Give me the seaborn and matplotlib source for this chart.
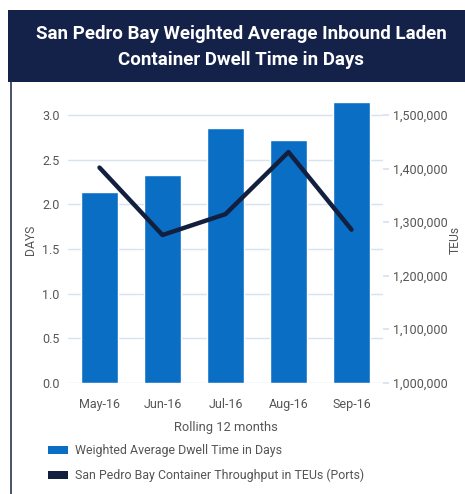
import matplotlib
matplotlib.use('Agg')
import matplotlib.pyplot as plt
from matplotlib.patches import Patch, Rectangle
from matplotlib.lines import Line2D
from matplotlib.ticker import FuncFormatter
import seaborn as sns

MONTHS = ['May-16', 'Jun-16', 'Jul-16', 'Aug-16', 'Sep-16']
DWELL_DAYS = [2.14, 2.33, 2.86, 2.72, 3.15]
TEUS = [1402000, 1276000, 1315000, 1431000, 1286000]

BAR_COLOR = '#0a6fc4'
LINE_COLOR = '#121f3f'
NAVY = '#14224a'
GRID = '#d5e3f2'
TEXT = '#555555'

sns.set_theme(style='white')
plt.rcParams['font.family'] = ['Roboto', 'DejaVu Sans']

fig = plt.figure(figsize=(4.65, 4.94), dpi=100)

# header box and frame
fig.patches.append(Rectangle((8 / 465, 1 - 82 / 494), 1, 72 / 494, transform=fig.transFigure,
                             facecolor=NAVY, edgecolor='none', zorder=0))
fig.lines.append(Line2D([10.5 / 465, 10.5 / 465], [0, 1 - 82 / 494], transform=fig.transFigure,
                        color='#2b3552', lw=1.2))
fig.text(0.519, 1 - 47 / 494, 'San Pedro Bay Weighted Average Inbound Laden\nContainer Dwell Time in Days',
         ha='center', va='center', color='white', fontsize=13.5, fontweight='bold', linespacing=1.55)

ax = fig.add_axes([68 / 465, 1 - 382.7 / 494, 315 / 465, 285.4 / 494])
sns.barplot(x=MONTHS, y=DWELL_DAYS, color=BAR_COLOR, width=0.6, saturation=1, ax=ax, zorder=2)
ax.set_ylim(0, 3.2)
ax.set_xlim(-0.5, 4.5)
ax.set_yticks([0, 0.5, 1.0, 1.5, 2.0, 2.5, 3.0])
ax.yaxis.set_major_formatter(FuncFormatter(lambda v, p: f'{v:.1f}'))
ax.grid(axis='y', color=GRID, lw=1, zorder=0)
ax.set_axisbelow(True)
for s in ax.spines.values():
    s.set_visible(False)
ax.tick_params(axis='y', length=0, labelsize=9, labelcolor=TEXT, pad=6)
ax.tick_params(axis='x', length=0, labelsize=9, labelcolor=TEXT, pad=11)
ax.set_ylabel('DAYS', fontsize=8.7, color=TEXT, labelpad=4)
ax.set_xlabel('Rolling 12 months', fontsize=9.3, color=TEXT, labelpad=7)

ax2 = ax.twinx()
sns.lineplot(x=MONTHS, y=TEUS, color=LINE_COLOR, lw=3.2, ax=ax2, zorder=3)
ax2.set_ylim(1000000, 1000000 + 3.2 / 3 * 500000)
ax2.set_yticks([1000000, 1100000, 1200000, 1300000, 1400000, 1500000])
ax2.yaxis.set_major_formatter(FuncFormatter(lambda v, p: f'{int(v):,}'))
for s in ax2.spines.values():
    s.set_visible(False)
ax2.tick_params(axis='y', length=4, color=GRID, labelsize=9, labelcolor=TEXT, pad=3)
ax2.set_ylabel('TEUs', fontsize=8.7, color=TEXT, labelpad=1)
ax2.grid(False)

handles = [Patch(facecolor=BAR_COLOR, edgecolor='none', label='Weighted Average Dwell Time in Days'),
           Patch(facecolor=LINE_COLOR, edgecolor='none', label='San Pedro Bay Container Throughput in TEUs (Ports)')]
fig.legend(handles=handles, loc='upper left', bbox_to_anchor=(37 / 465, 1 - 433 / 494), frameon=False,
           fontsize=8.9, labelcolor=TEXT, handlelength=1.6, handleheight=0.6, labelspacing=0.95,
           handletextpad=0.55)

fig.savefig('out.png', dpi=100)
